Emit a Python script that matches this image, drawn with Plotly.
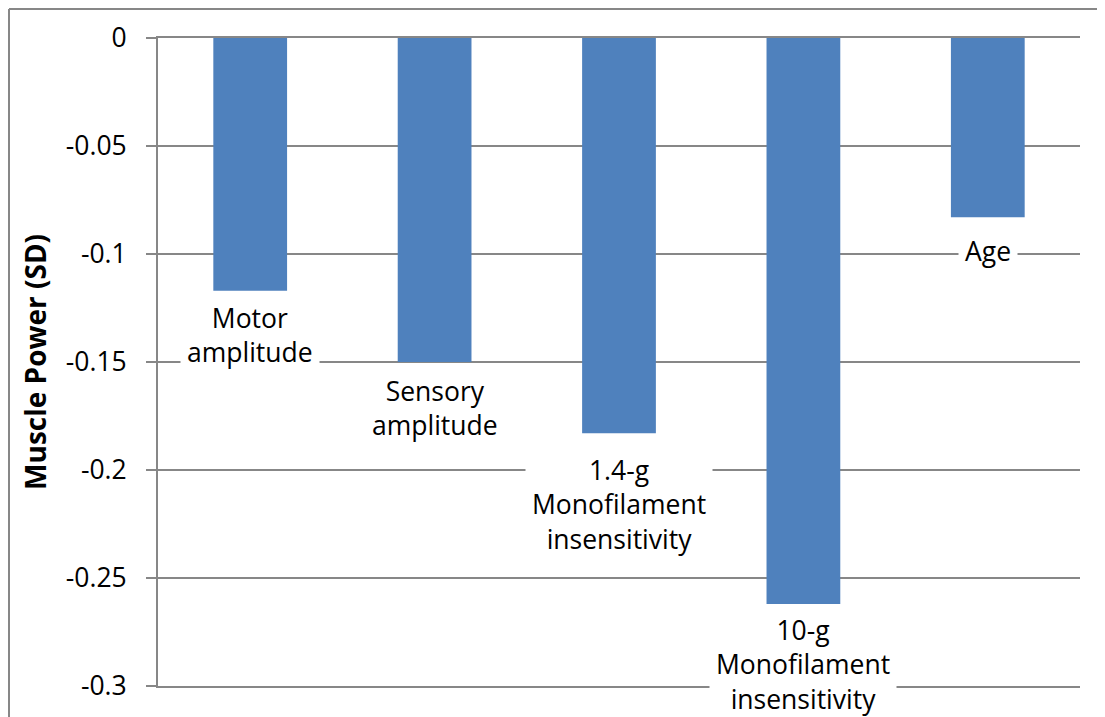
import plotly.graph_objects as go

categories = ["Motor amplitude", "Sensory amplitude", "1.4-g Monofilament insensitivity",
              "10-g Monofilament insensitivity", "Age"]
label_text = ["Motor<br>amplitude", "Sensory<br>amplitude", "1.4-g<br>Monofilament<br>insensitivity",
              "10-g<br>Monofilament<br>insensitivity", "Age"]
values = [-0.117, -0.150, -0.183, -0.262, -0.083]
tick_vals = [0, -0.05, -0.1, -0.15, -0.2, -0.25, -0.3]
tick_text = ["0", "-0.05", "-0.1", "-0.15", "-0.2", "-0.25", "-0.3"]

GRID = "#878787"
FONT = "Open Sans"

fig = go.Figure(go.Bar(x=categories, y=values, marker=dict(color="#4F81BD", line=dict(width=0)),
                       width=0.4))

label_shift = [0, -2, -10, 1, -7]
for c, t, v, s in zip(categories, label_text, values, label_shift):
    fig.add_annotation(x=c, y=v, text=t, showarrow=False, yanchor="top", xanchor="center",
                       yshift=-2 + s, bgcolor="white", borderpad=6,
                       font=dict(family=FONT, size=26.5, color="black"))

fig.add_annotation(x=-0.1335, y=0.5, xref="paper", yref="paper", text="<b>Muscle Power (SD)</b>",
                   textangle=-90, showarrow=False, xanchor="center", yanchor="middle",
                   font=dict(family=FONT, size=28, color="black"))

# outer chart frame
fig.add_shape(type="line", xref="paper", yref="paper", x0=-0.1616, x1=1.1, y0=1.0448, y1=1.0448,
              line=dict(color=GRID, width=2))
fig.add_shape(type="line", xref="paper", yref="paper", x0=-0.1616, x1=-0.1616, y0=1.0448, y1=-0.1,
              line=dict(color=GRID, width=2))

fig.update_layout(
    width=1097, height=709,
    margin=dict(l=150, r=25, t=30, b=31, autoexpand=False),
    paper_bgcolor="white", plot_bgcolor="white",
    showlegend=False,
    font=dict(family=FONT, size=26, color="black"),
    xaxis=dict(showticklabels=False, ticks="", showgrid=False, zeroline=False, automargin=False,
               showline=True, linecolor=GRID, linewidth=2, mirror=True),
    yaxis=dict(range=[-0.3, 0], tickvals=tick_vals, ticktext=tick_text, showgrid=True,
               automargin=False, ticklabelstandoff=14,
               gridcolor=GRID, gridwidth=2, zeroline=False, showline=True, linecolor=GRID,
               linewidth=2, ticks="outside", ticklen=10, tickcolor=GRID, tickwidth=2,
               tickfont=dict(family=FONT, size=26.5, color="black")),
)

fig.write_html("out.html")
